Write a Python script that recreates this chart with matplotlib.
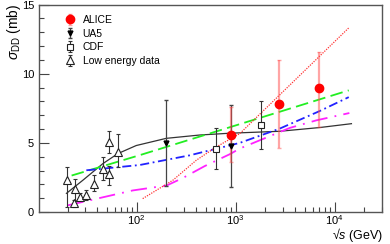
import numpy as np
import matplotlib
matplotlib.use("Agg")
import matplotlib.pyplot as plt
from matplotlib.ticker import LogLocator, MultipleLocator, NullFormatter

plt.rcParams["font.family"] = ["Liberation Sans", "DejaVu Sans"]
plt.rcParams["mathtext.fontset"] = "custom"
plt.rcParams["mathtext.rm"] = "Liberation Sans"
plt.rcParams["mathtext.it"] = "Liberation Sans:italic"

# --- data (sqrt(s) in GeV, sigma_DD in mb) ---
alice_s = [900, 2760, 7000]
alice_v = [5.6, 7.8, 9.0]
alice_lo = [2.0, 3.2, 2.85]
alice_hi = [2.0, 3.2, 2.6]

ua5_s = [200, 900]
ua5_v = [5.0, 4.8]
ua5_lo = [3.15, 3.02]
ua5_hi = [3.1, 2.97]

cdf_s = [630, 1800]
cdf_v = [4.55, 6.32]
cdf_lo = [1.47, 1.73]
cdf_hi = [1.53, 1.68]

low_s = [19.6, 24, 23.3, 27, 30.5, 37, 45.7, 52.5, 52.5, 64.7]
low_v = [2.33, 1.64, 0.62, 1.1, 1.24, 2.05, 3.1, 2.75, 5.06, 4.37]
low_lo = [1.95, 0.85, 0.25, 0.3, 0.37, 0.55, 0.8, 0.8, 0.78, 1.1]
low_hi = [0.9, 0.75, 0.25, 0.3, 0.35, 0.6, 0.9, 0.58, 0.8, 1.25]

# model curves
black_s = [19.5, 28.7, 45.7, 64.7, 99, 199, 433, 871, 2780, 7050, 14800]
black_v = [1.35, 2.31, 3.51, 4.23, 4.81, 5.33, 5.57, 5.70, 5.84, 6.11, 6.39]

green_s = [22, 107, 13900]
green_v = [2.64, 4.11, 8.8]

blue_s = [31, 107, 343, 1100, 2780, 7050, 13900]
blue_v = [3.02, 3.4, 4.1, 5.0, 6.03, 7.3, 8.31]

magenta_s = [20, 91, 201, 294, 486, 871, 1100, 3510, 6530, 14100]
magenta_v = [0.48, 1.56, 1.92, 2.47, 3.32, 4.18, 4.59, 6.08, 6.63, 7.16]

red_s = [115, 233, 401, 638, 1100, 14100]
red_v = [0.97, 2.31, 3.75, 4.71, 5.67, 13.36]

fig = plt.figure(figsize=(3.9, 2.44), dpi=100)
ax = fig.add_axes([0.1, 0.131, 0.879, 0.85])

# curves
ax.plot(black_s, black_v, color="#333333", lw=0.9)
ax.plot(green_s, green_v, color="#22ee22", lw=1.3, dashes=(7, 3))
ax.plot(blue_s, blue_v, color="#2222ff", lw=1.3, dashes=(5, 2, 1, 2))
ax.plot(magenta_s, magenta_v, color="#ff22ff", lw=1.3, dashes=(9, 4, 1, 4))
ax.plot(red_s, red_v, color="#ff3333", lw=0.9, dashes=(1, 1))

# data
ax.errorbar(low_s, low_v, yerr=[low_lo, low_hi], fmt="^", ms=6, mfc="white",
            mec="#222222", mew=0.8, ecolor="#333333", elinewidth=0.8, capsize=1.5,
            label="Low energy data")
ax.errorbar(ua5_s, ua5_v, yerr=[ua5_lo, ua5_hi], fmt="v", ms=3.5, color="black",
            ecolor="#444444", elinewidth=0.9, capsize=1.5, label="UA5")
ax.errorbar(cdf_s, cdf_v, yerr=[cdf_lo, cdf_hi], fmt="s", ms=4, mfc="white",
            mec="#222222", mew=0.8, ecolor="#333333", elinewidth=0.8, capsize=1.5,
            label="CDF")
ax.errorbar(alice_s, alice_v, yerr=[alice_lo, alice_hi], fmt="o", ms=6, color="red",
            ecolor=(1, 0.3, 0.3, 0.5), elinewidth=1.6, capsize=1.5, label="ALICE")

ax.set_xscale("log")
ax.set_xlim(10.3, 3e4)
ax.set_ylim(0, 15)

ax.yaxis.set_major_locator(MultipleLocator(5))
ax.yaxis.set_minor_locator(MultipleLocator(1))
ax.xaxis.set_major_locator(LogLocator(base=10, numticks=10))
ax.xaxis.set_minor_locator(LogLocator(base=10, subs=np.arange(2, 10), numticks=10))
ax.xaxis.set_minor_formatter(NullFormatter())

ax.tick_params(which="both", direction="in", top=False, right=False,
               labelsize=8, color="#444444")
ax.tick_params(which="major", length=7, width=0.8)
ax.tick_params(which="minor", length=3.5, width=0.8)
ax.tick_params(axis="x", pad=0.5)
for sp in ax.spines.values():
    sp.set_color("#555555")
    sp.set_linewidth(1.0)

# axis titles placed like the original (top-left / bottom-right)
fig.text(0.012, 0.985, r"$\sigma_{\rm DD}$ (mb)", fontsize=10, rotation=90,
         ha="left", va="top")
fig.text(0.982, 0.002, "\u221a$s$ (GeV)", fontsize=9, ha="right", va="bottom")

handles, labels = ax.get_legend_handles_labels()
order = [3, 1, 2, 0]
leg = ax.legend([handles[i] for i in order], [labels[i] for i in order],
                loc="upper left", bbox_to_anchor=(0.045, 0.995), frameon=False,
                fontsize=7.5, handlelength=1.2, handletextpad=0.6, labelspacing=0.35)

fig.savefig("out.png", dpi=100)
